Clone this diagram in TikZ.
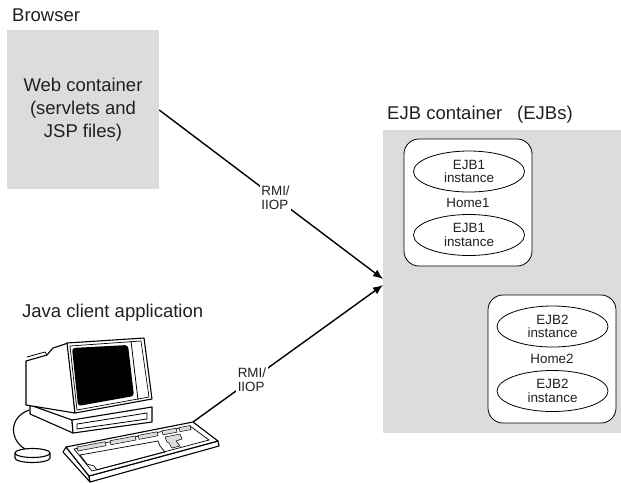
\documentclass[tikz,border=0pt]{standalone}
\usepackage{fontspec}
\setmainfont{Liberation Sans}
\usepackage{xcolor}
\definecolor{BoxGray}{HTML}{DCDCDE}
\definecolor{InkGray}{HTML}{231F20}
\usetikzlibrary{positioning,shapes.geometric,arrows.meta}

\begin{document}
\begin{tikzpicture}[x=1pt,y=-1pt,
  bigtxt/.style={font=\fontsize{18.5}{23}\selectfont, text=InkGray},
  smalltxt/.style={font=\fontsize{13.4}{13.6}\selectfont, text=InkGray},
  graybox/.style={rectangle, fill=BoxGray, inner sep=0pt},
  homebox/.style={rectangle, draw, fill=white, rounded corners=15pt, line width=0.8pt,
    minimum width=128pt, minimum height=127pt, smalltxt},
  instance/.style={ellipse, draw, fill=white, line width=0.8pt, inner sep=0pt,
    minimum width=111pt, minimum height=41pt, align=center, smalltxt},
  link/.style={line width=1.4pt, -{Latex[length=10pt,width=8pt]}},
  proto/.style={fill=white, inner sep=1.5pt, align=left, smalltxt},
  pc/.style={line width=1.1pt, line join=round}]
  \useasboundingbox (0,0) rectangle (621,482);

  % browser side
  \node[bigtxt, anchor=base west, inner sep=0pt] (browser) at (12,21) {Browser};
  \node[graybox, minimum width=152pt, minimum height=159pt, align=center, bigtxt]
    (web) at (83,109.5) {Web container\\(servlets and\\JSP files)};

  % ejb side
  \node[bigtxt, anchor=base west, inner sep=0pt] (ejblabel) at (387,119) {EJB container};
  \node[bigtxt, anchor=base west, inner sep=0pt] (ejbs) at (517,119) {(EJBs)};
  \node[graybox, minimum width=238pt, minimum height=303pt] (ejb) at (502,281.5) {};

  \node[homebox] (homeA) at (468,202.5) {Home1};
  \node[instance] (instA1) at (469,171.5) {EJB1\\instance};
  \node[instance] (instA2) at (469,235) {EJB1\\instance};

  \node[homebox, minimum height=128pt] (homeB) at (552,359) {Home2};
  \node[instance] (instB1) at (552.5,326.5) {EJB2\\instance};
  \node[instance] (instB2) at (552.5,391) {EJB2\\instance};

  % java client
  \node[bigtxt, anchor=base west, inner sep=0pt] (client) at (22,317) {Java client application};

  % mouse and cord
  \draw[pc] (25,449) .. controls (10,440) and (8,418) .. (29,410);
  \draw[pc, fill=white] (15,453) -- (15,458) arc[start angle=180, end angle=0, x radius=17.5, y radius=4.5] -- (50,453);
  \draw[pc, fill=white] (32.5,453) ellipse[x radius=17.5, y radius=4.5];

  % base under the monitor
  \draw[pc, fill=white] (30,405) -- (72,420) -- (73,433) -- (30,414) -- cycle;
  \draw[pc, fill=white] (72,420) -- (152,407) -- (152,422) -- (73,433) -- cycle;
  \draw[line width=0.8pt] (77,424) -- (147,413) -- (147,419) -- (77,429) -- cycle;

  % monitor housing
  \draw[pc, fill=white] (26,361) -- (47,355) -- (53,348) -- (68,343) -- (75,413) -- (26,405) -- cycle;
  \draw[line width=0.8pt] (27,357) -- (45,352) -- (47,355);
  \draw[pc, fill=white] (67,343) -- (144,338) -- (152,399) -- (75,413) -- cycle;
  \draw[line width=0.7pt] (70,346) -- (141,341) -- (149,397) -- (77,410) -- cycle;
  \draw[line width=0.8pt] (131,341) -- (138,400);
  \fill[black, rounded corners=3pt] (72,348) -- (128,345) -- (134,396) -- (78,406) -- cycle;

  % keyboard
  \draw[pc, fill=white] (66,447) -- (63,452) -- (90,482) -- (89,476) -- cycle;
  \draw[pc, fill=white] (89,476) -- (218,441) -- (219,446) -- (90,482) -- cycle;
  \draw[pc, fill=white] (66,447) -- (193,422) -- (218,441) -- (89,476) -- cycle;
  \draw[line width=0.7pt] (74,449) -- (190,426) -- (209,440) -- (92,471) -- cycle;
  \foreach \a/\b in {77/105,110/135,138/157,162/176,179/190}{
    \pgfmathsetmacro{\ya}{447-(\a-77)*0.19}
    \pgfmathsetmacro{\yb}{447-(\b-77)*0.19}
    \draw[line width=0.5pt, fill=BoxGray] (\a,\ya) -- (\b,\yb) -- (\b+1,\yb+4) -- (\a+1,\ya+4) -- cycle;
  }
  \draw[line width=0.5pt, fill=BoxGray] (165,437) -- (180,434) -- (182,439) -- (176,441) -- (180,446) -- (172,448) -- (169,443) -- (167,442) -- cycle;
  \draw[line width=0.7pt] (80,455) -- (158,441) -- (160,446) -- (165,452) -- (112,466)
    -- (104,468) -- (97,470) -- (94,466) -- (87,464) -- cycle;
  \coordinate (kbd) at (193,422);

  % remote calls into the ejb container
  \coordinate (tipA) at (383,279);
  \coordinate (tipB) at (383,285);
  \draw[link] (web.east |- 0,110) -- (tipA) node[proto, pos=0.52] (rmiA) {RMI/\\IIOP};
  \draw[link] (kbd) -- (tipB) node[proto, pos=0.31] (rmiB) {RMI/\\IIOP};
\end{tikzpicture}
\end{document}
